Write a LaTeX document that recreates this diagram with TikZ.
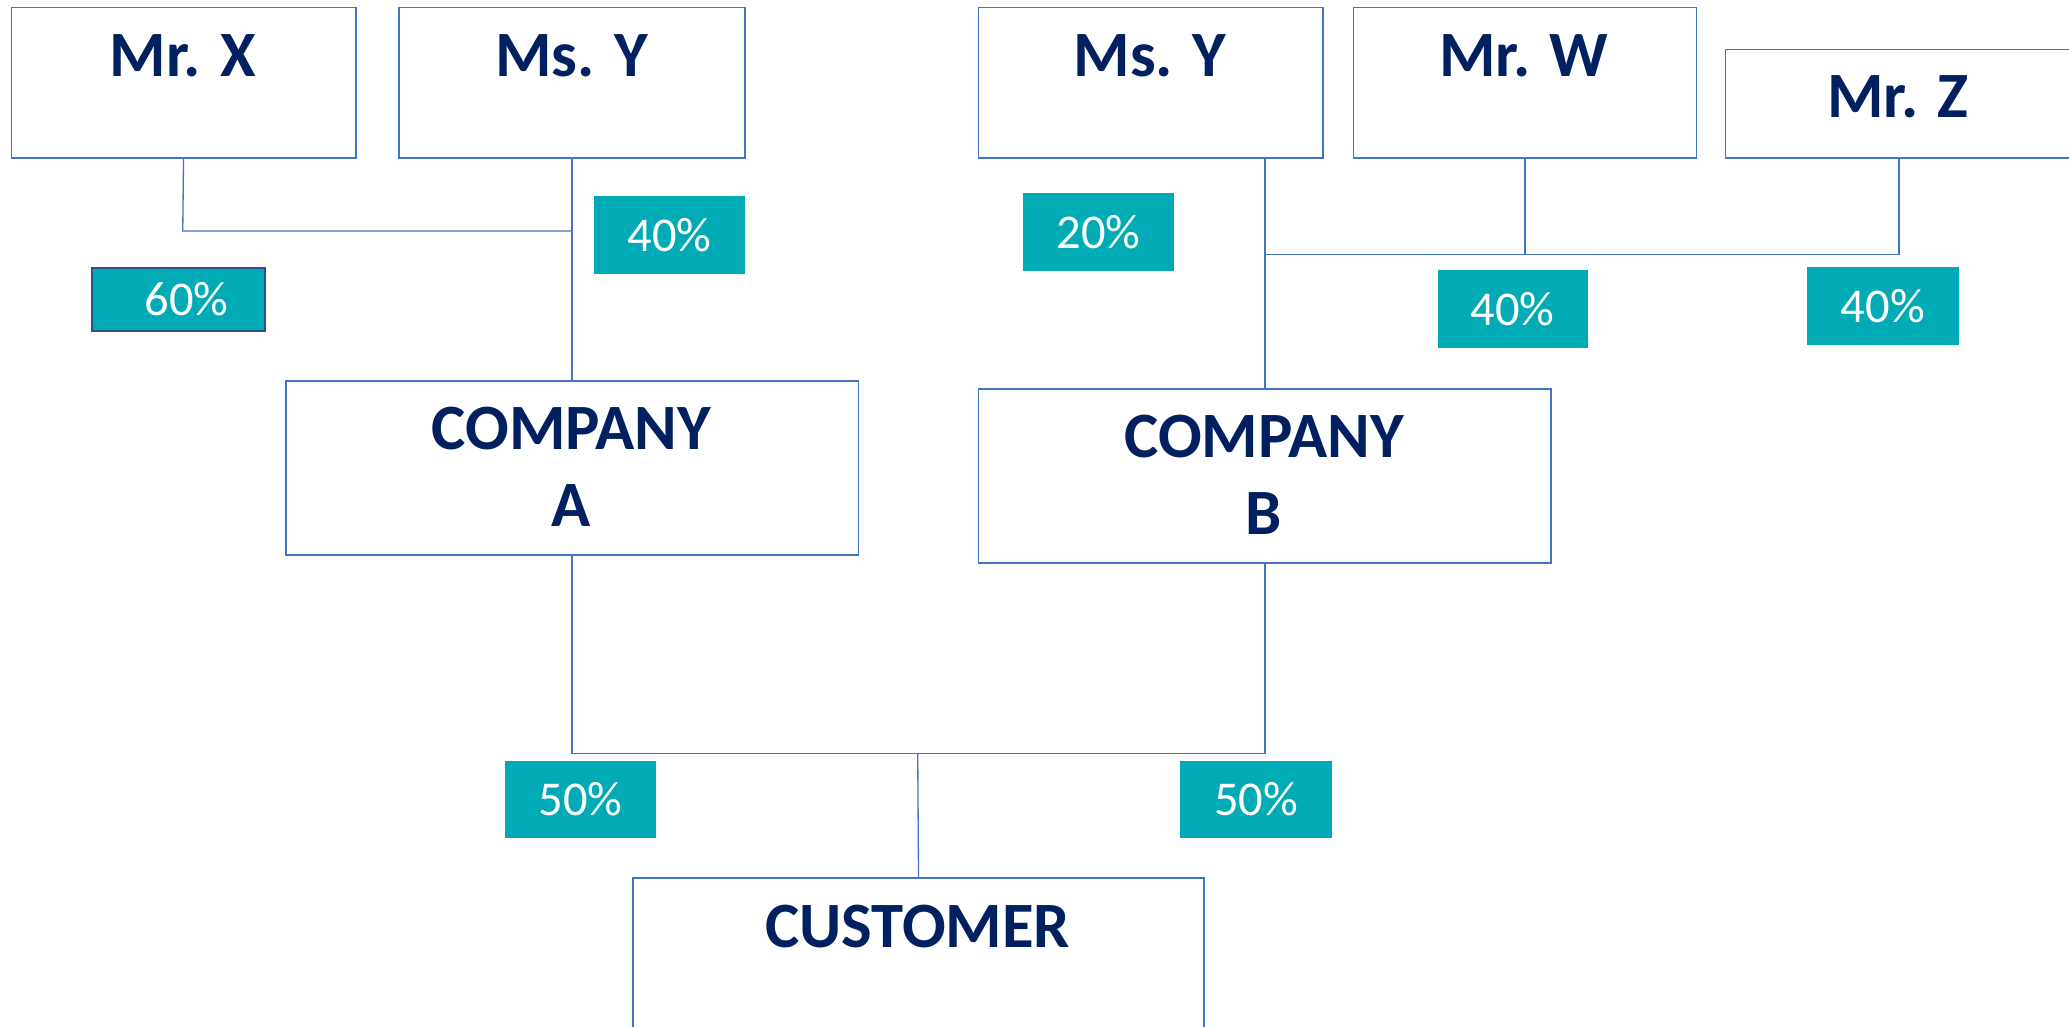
\documentclass[tikz,border=0pt]{standalone}
\usepackage{fontspec}
\setmainfont{Carlito}
\definecolor{navy}{HTML}{002060}
\definecolor{bord}{HTML}{4472C4}
\definecolor{tealb}{RGB}{0,171,181}
\definecolor{darkbord}{HTML}{2F528F}
\begin{document}
\begin{tikzpicture}[x=0.5pt,y=-0.5pt,
  obox/.style={draw=bord, line width=0.6pt, fill=white, rectangle, inner sep=0pt, anchor=north west},
  pctbox/.style={fill=tealb, rectangle, inner sep=0pt, anchor=north west, text=white,
    minimum width=57pt, minimum height=29.5pt, font=\fontsize{18.4}{22}\selectfont},
  nametext/.style={inner sep=0pt, anchor=base, text=navy, font=\fontsize{24.5}{29}\selectfont\bfseries},
  conn/.style={draw=bord, line width=0.5pt}]
\useasboundingbox (0,0) rectangle (1568,778);
\clip (0,0) rectangle (1568,778);
% owner boxes
\node[obox, minimum width=130.5pt, minimum height=57pt] (mx) at (8,5) {};
\node[obox, minimum width=131pt, minimum height=57pt] (my1) at (302,5) {};
\node[obox, minimum width=130.5pt, minimum height=57pt] (my2) at (741,5) {};
\node[obox, minimum width=130pt, minimum height=57pt] (mw) at (1025,5) {};
\node[obox, minimum width=131.5pt, minimum height=41pt] (mz) at (1307,37) {};
% companies and customer
\node[obox, minimum width=217pt, minimum height=66pt] (ca) at (216,288) {};
\node[obox, minimum width=217pt, minimum height=66pt] (cb) at (741,294) {};
\node[obox, minimum width=216.5pt, minimum height=75pt] (cu) at (479,665) {};
% texts
\node[nametext] (tmx) at (138.5,58) {Mr. X};
\node[nametext] (tmy1) at (433,58) {Ms. Y};
\node[nametext] (tmy2) at (871.5,58) {Ms. Y};
\node[nametext] (tmw) at (1155,58) {Mr. W};
\node[nametext] (tmz) at (1438.5,89) {Mr. Z};
\node[nametext] (tca1) at (433,341) {COMPANY};
\node[nametext] (tca2) at (433,399) {A};
\node[nametext] (tcb1) at (958,347) {COMPANY};
\node[nametext] (tcb2) at (958,405) {B};
\node[nametext] (tcu) at (695.5,718) {CUSTOMER};
% percentage boxes
\node[pctbox, draw=darkbord, line width=0.9pt, minimum width=65.5pt, minimum height=24pt] (p60) at (69,202) {\hspace*{6pt}60\%};
\node[pctbox] (p40a) at (450,148) {40\%};
\node[pctbox] (p20) at (775,146) {20\%};
\node[pctbox] (p40w) at (1089,204) {40\%};
\node[pctbox, minimum width=57.5pt] (p40z) at (1369,202) {40\%};
\node[pctbox, minimum width=57.5pt] (p50a) at (382,576) {50\%};
\node[pctbox, minimum width=57.5pt] (p50b) at (894,576) {50\%};
% connectors
\coordinate (kx) at (138.5,175);
\coordinate (kb) at (958,193);
\coordinate (kc) at (695.5,571);
\draw[conn] (mx.south) -- (kx) -- (kx -| my1.south);
\draw[conn] (my1.south) -- (ca.north);
\draw[conn] (my2.south -| cb.north) -- (cb.north);
\draw[conn] (mw.south) -- (mw.south |- kb);
\draw[conn] (mz.south) |- (kb);
\draw[conn] (ca.south) |- (kc) -| (cb.south);
\draw[conn] (kc) -- (cu.north);
\end{tikzpicture}
\end{document}
